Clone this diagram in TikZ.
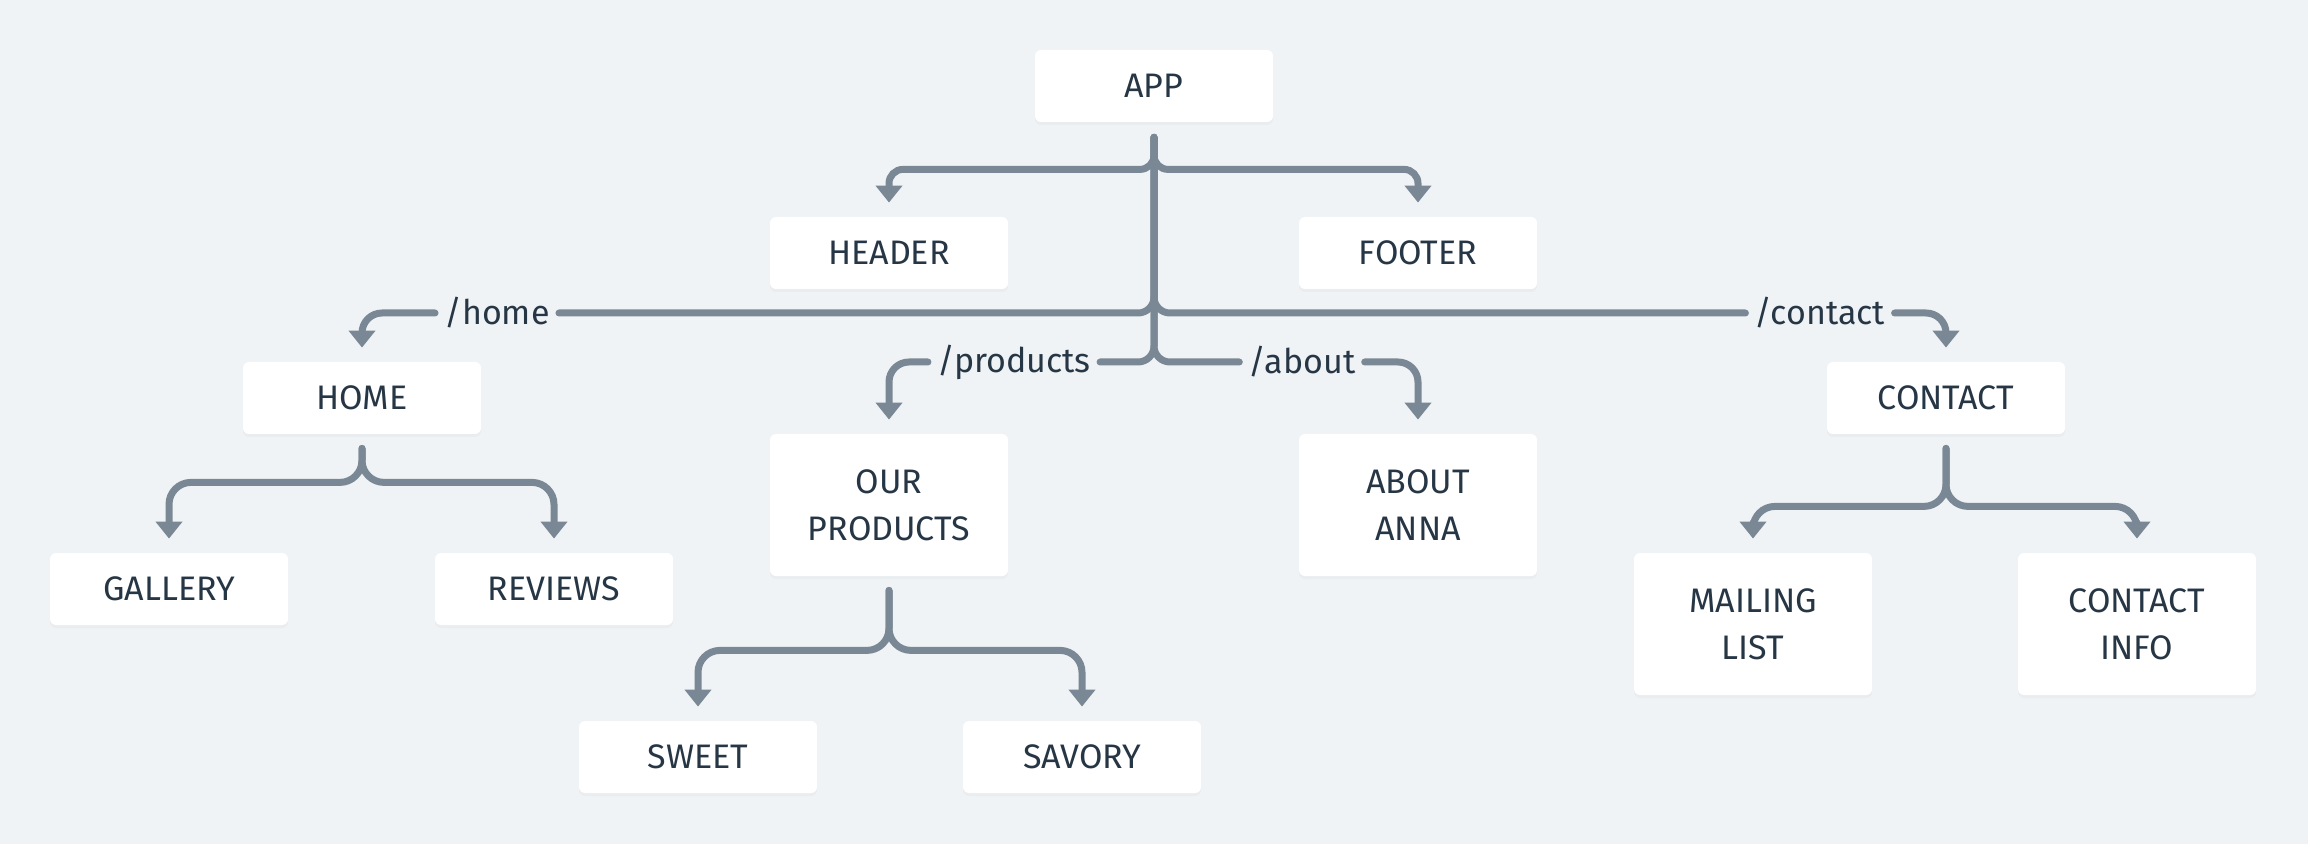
\documentclass[tikz,border=0pt]{standalone}
\usepackage{fontspec}
\setmainfont{Fira Sans}
\usetikzlibrary{arrows.meta,shadows}
\definecolor{bgcol}{HTML}{EFF3F6}
\definecolor{wirecol}{HTML}{7A8895}
\definecolor{inkcol}{HTML}{263645}
\tikzstyle{block}=[rectangle,rounded corners=3pt,fill=white,text=inkcol,minimum width=119pt,minimum height=36pt,align=center,font=\fontsize{17}{23.5}\selectfont,drop shadow={opacity=0.05,shadow xshift=0pt,shadow yshift=-1.5pt}]
\tikzstyle{tallblock}=[block,minimum height=71pt]
\tikzstyle{route}=[text=inkcol,inner xsep=4.5pt,inner ysep=0pt,font=\fontsize{17}{20}\selectfont]
\tikzstyle{wire}=[draw=wirecol,line width=3.5pt,line cap=round,rounded corners=8pt]
\tikzstyle{feed}=[wire,-{Triangle[width=13pt,length=8.5pt]},shorten >=7pt]

\begin{document}
\begin{tikzpicture}[x=0.5pt,y=-0.5pt]
    \fill[bgcol] (0,0) rectangle (2308,844);
    \node[block] (app) at (1154,86) {APP};
    \node[block] (header) at (889,253) {HEADER};
    \node[block] (footer) at (1418,253) {FOOTER};
    \node[block] (home) at (362,398) {HOME};
    \node[block] (contact) at (1946,398) {CONTACT};
    \node[tallblock] (prod) at (889,505) {OUR\\PRODUCTS};
    \node[tallblock] (about) at (1418,505) {ABOUT\\ANNA};
    \node[block] (gallery) at (169,589) {GALLERY};
    \node[block] (reviews) at (554,589) {REVIEWS};
    \node[block] (sweet) at (698,757) {SWEET};
    \node[block] (savory) at (1082,757) {SAVORY};
    \node[tallblock] (mailing) at (1753,624) {MAILING\\LIST};
    \node[tallblock] (cinfo) at (2137,624) {CONTACT\\INFO};
    % routes
    \node[route] (lhome) at (497,313) {/home};
    \node[route] (lcontact) at (1820,313) {/contact};
    \node[route] (lprod) at (1014,362) {/products};
    \node[route] (labout) at (1302,362) {/about};
    % app
    \draw[feed,rounded corners=7pt,shorten <=7.5pt] (app.south) -- ++(0,47) -| (header.north);
    \draw[feed,rounded corners=7pt,shorten <=7.5pt] (app.south) -- ++(0,47) -| (footer.north);
    \draw[wire,shorten <=7.5pt] (app.south) |- (lhome.east);
    \draw[feed,rounded corners=10pt] (lhome.west) -| (home.north);
    \draw[wire,shorten <=7.5pt] (app.south) |- (lcontact.west);
    \draw[feed,rounded corners=10pt] (lcontact.east) -| (contact.north);
    \draw[wire,shorten <=7.5pt] (app.south) |- (lprod.east);
    \draw[feed,rounded corners=10pt] (lprod.west) -| (prod.north);
    \draw[wire,shorten <=7.5pt] (app.south) |- (labout.west);
    \draw[feed,rounded corners=10pt] (labout.east) -| (about.north);
    % subpages
    \draw[feed,rounded corners=11pt,shorten <=7pt] (home.south) -- ++(0,48) -| (gallery.north);
    \draw[feed,rounded corners=11pt,shorten <=7pt] (home.south) -- ++(0,48) -| (reviews.north);
    \draw[feed,rounded corners=11pt,shorten <=7pt] (prod.south) -- ++(0,74) -| (sweet.north);
    \draw[feed,rounded corners=11pt,shorten <=7pt] (prod.south) -- ++(0,74) -| (savory.north);
    \draw[feed,rounded corners=11pt,shorten <=7pt] (contact.south) -- ++(0,72) -| (mailing.north);
    \draw[feed,rounded corners=11pt,shorten <=7pt] (contact.south) -- ++(0,72) -| (cinfo.north);
\end{tikzpicture}
\end{document}
